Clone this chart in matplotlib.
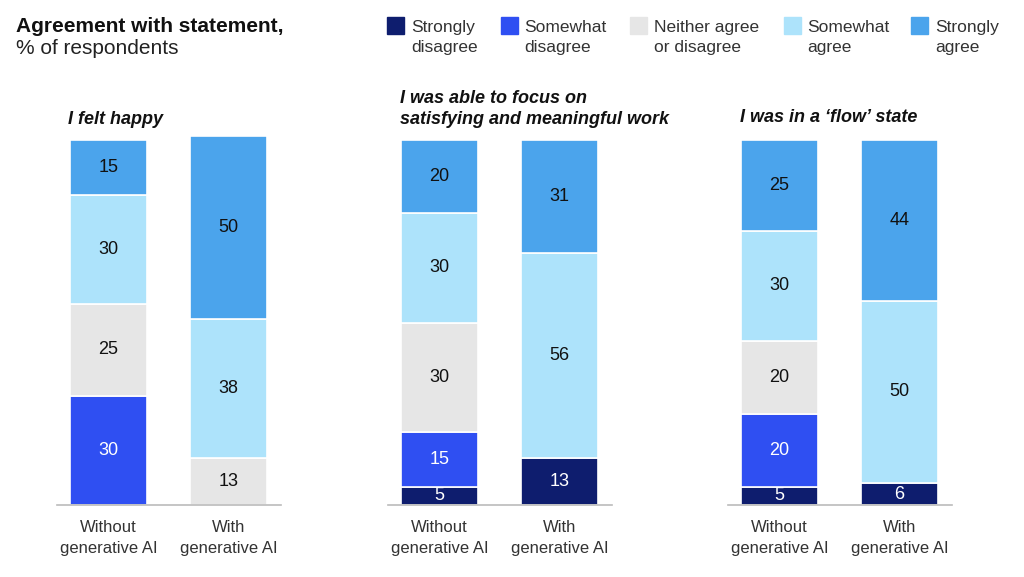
import numpy as np
import matplotlib.pyplot as plt
from matplotlib.patches import Rectangle

plt.rcParams['font.family'] = ['Liberation Sans', 'DejaVu Sans']

categories = ["Strongly\ndisagree", "Somewhat\ndisagree", "Neither agree\nor disagree",
              "Somewhat\nagree", "Strongly\nagree"]
colors = ["#0e1d6e", "#2f4ff2", "#e6e6e6", "#ade3fb", "#4ba4ec"]
text_colors = ["white", "white", "#111111", "#111111", "#111111"]

groups = ["Without\ngenerative AI", "With\ngenerative AI"]
titles = ["I felt happy",
          "I was able to focus on\nsatisfying and meaningful work",
          "I was in a \u2018flow\u2019 state"]

# values per panel: [without, with], order strongly disagree -> strongly agree
happy_without = [0, 30, 25, 30, 15]
happy_with = [0, 0, 13, 38, 50]
focus_without = [5, 15, 30, 30, 20]
focus_with = [13, 0, 0, 56, 31]
flow_without = [5, 20, 20, 30, 25]
flow_with = [6, 0, 0, 50, 44]

panels = [(happy_without, happy_with), (focus_without, focus_with), (flow_without, flow_with)]

fig = plt.figure(figsize=(10.24, 5.77), dpi=100)

W, H = 1024, 577
lefts = [56.9, 387.9, 727.9]
ax_w = 224.4
base_y = 505
top_y = 140

for p, (vals, title) in enumerate(zip(panels, titles)):
    ax = fig.add_axes([lefts[p] / W, (H - base_y) / H, ax_w / W, (base_y - top_y) / H])
    for g, series in enumerate(vals):
        bottom = 0
        for k, v in enumerate(series):
            if v == 0:
                continue
            ax.bar(g, v, bottom=bottom, width=0.642, color=colors[k],
                   edgecolor="white", linewidth=1.2, clip_on=False, zorder=2)
            ax.text(g, bottom + v / 2, str(v), ha="center", va="center",
                    fontsize=13, color=text_colors[k], zorder=3)
            bottom += v
    ax.set_xlim(-0.43, 1.44)
    ax.set_ylim(0, 100)
    ax.set_xticks([0, 1])
    ax.set_xticklabels(groups, fontsize=12, color="#333333", linespacing=1.45)
    ax.tick_params(axis="x", length=0, pad=11)
    ax.set_yticks([])
    for s in ["top", "right", "left"]:
        ax.spines[s].set_visible(False)
    ax.spines["bottom"].set_color("#bbbbbb")
    ax.spines["bottom"].set_linewidth(1.2)
    ax.spines["bottom"].set_zorder(4)

# panel titles
fig.text(68 / W, 1 - 120 / H, titles[0], fontsize=13, fontweight="bold",
         fontstyle="italic", color="#111111", va="center")
fig.text(400 / W, 1 - 109 / H, titles[1], fontsize=13, fontweight="bold",
         fontstyle="italic", color="#111111", va="center", linespacing=1.3)
fig.text(740 / W, 1 - 117 / H, titles[2], fontsize=13, fontweight="bold",
         fontstyle="italic", color="#111111", va="center")

# chart heading
fig.text(16 / W, 1 - 27 / H, "Agreement with statement,", fontsize=15,
         fontweight="bold", color="#111111", va="center")
fig.text(16 / W, 1 - 49 / H, "% of respondents", fontsize=15,
         color="#222222", va="center")

# legend
sq_x = [387, 501, 630, 784, 911]
txt_x = [411, 524, 654, 807, 935]
for k, lab in enumerate(categories):
    fig.patches.append(Rectangle((sq_x[k] / W, 1 - 34 / H), 17 / W, 17 / H,
                                 transform=fig.transFigure, color=colors[k]))
    fig.text(txt_x[k] / W, 1 - 37.5 / H, lab, fontsize=12.5, color="#333333",
             va="center", linespacing=1.4)

fig.savefig("out.png", dpi=100)
